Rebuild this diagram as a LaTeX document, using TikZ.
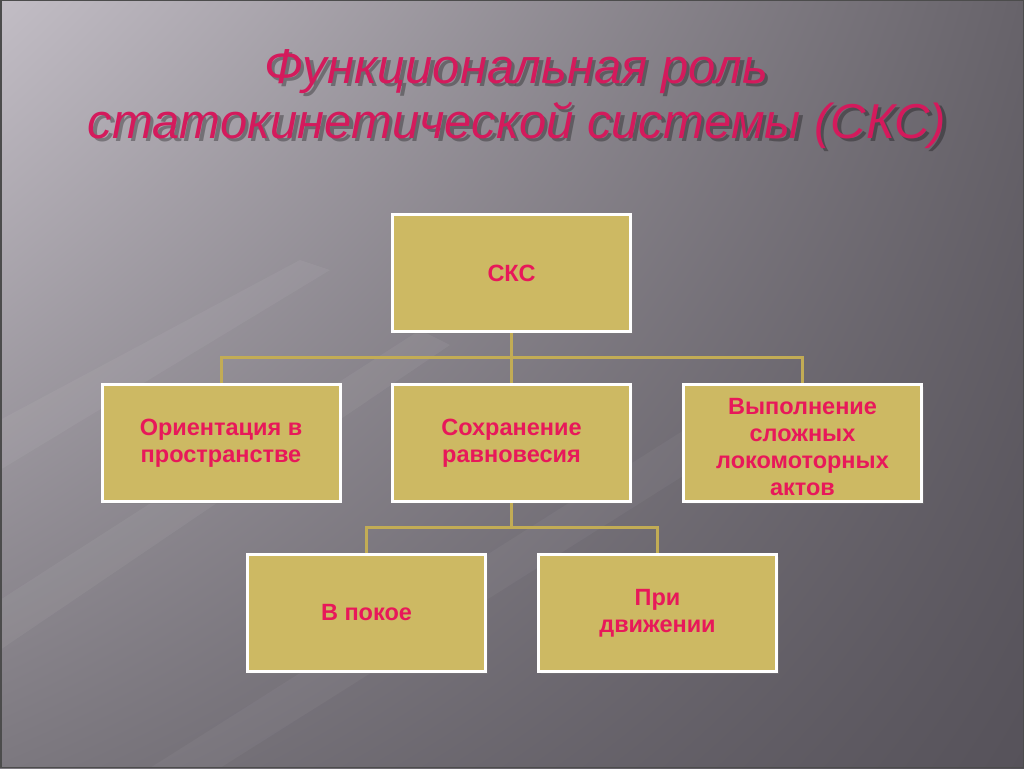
\documentclass[tikz,border=0pt]{standalone}
\usepackage{fontspec}
\setmainfont{Liberation Sans}
\usetikzlibrary{shadows,fadings,shadings}
\definecolor{boxfill}{HTML}{CDB963}
\definecolor{boxtext}{HTML}{E8185A}
\definecolor{linec}{HTML}{C2AC55}
\definecolor{titlec}{HTML}{D41A5C}
\definecolor{bgul}{HTML}{C2BDC5}
\definecolor{bgur}{HTML}{67636A}
\definecolor{bgll}{HTML}{7C787F}
\definecolor{bglr}{HTML}{56525A}
\tikzset{
  boxtxt/.style={inner sep=0pt, align=center, text=boxtext, font=\bfseries\fontsize{23.5}{27.5}\selectfont},
  box/.style={boxtxt, draw=white, line width=3pt, fill=boxfill, minimum width=238pt, minimum height=117pt,
    drop shadow={shadow xshift=2pt, shadow yshift=-2pt, opacity=0.35}},
  conn/.style={draw=linec, line width=3pt},
  ttl/.style={text=titlec, font=\itshape\fontsize{49}{49}\selectfont, anchor=base, inner sep=0pt},
  ttlsh/.style={text=black, opacity=0.3, font=\itshape\fontsize{49}{49}\selectfont, anchor=base, inner sep=0pt}
}
\begin{document}
\begin{tikzpicture}[x=1pt,y=-1pt]
\useasboundingbox (0,0) rectangle (1024,768);
% background
\shade[upper left=bgul, upper right=bgur, lower left=bgll, lower right=bglr] (0,0) rectangle (1024,768);
\fill[white, opacity=0.05] (0,420) -- (300,260) -- (330,270) -- (0,470) -- cycle;
\fill[white, opacity=0.05] (0,600) -- (420,330) -- (450,345) -- (0,650) -- cycle;
\fill[white, opacity=0.04] (150,768) -- (700,420) -- (740,440) -- (220,768) -- cycle;
\draw[black!70, line width=1.5pt] (0.75,0.75) rectangle (1023.25,767.25);
% title
\node[ttlsh] (t1s) at (519.5,86.5) {Функциональная роль};
\node[ttlsh] (t2s) at (520.5,141.5) {статокинетической системы (СКС)};
\node[ttl] (t1) at (516,83) {Функциональная роль};
\node[ttl] (t2) at (517,138) {статокинетической системы (СКС)};
% boxes
\node[box] (skc) at (511.5,273) {СКС};
\node[box] (or) at (221,443) {Ориентация в\\пространстве};
\node[box] (sr) at (511.5,443) {Сохранение\\равновесия};
\node[box] (vs) at (802.5,443) {};
\node[boxtxt, font=\bfseries\fontsize{23.5}{26.8}\selectfont] (vst) at (802.5,447) {Выполнение\\сложных\\локомоторных\\актов};
\node[box] (vp) at (366.5,613) {В покое};
\node[box] (pd) at (657.5,613) {При\\движении};
% connectors
\coordinate (j1) at (511.5,357);
\coordinate (j2) at (511.5,527);
\draw[conn] (skc.south) -- (j1);
\draw[conn] (or.north) |- (j1) -| (vs.north);
\draw[conn] (j1) -- (sr.north);
\draw[conn] (sr.south) -- (j2);
\draw[conn] (vp.north) |- (j2) -| (pd.north);
\end{tikzpicture}
\end{document}
